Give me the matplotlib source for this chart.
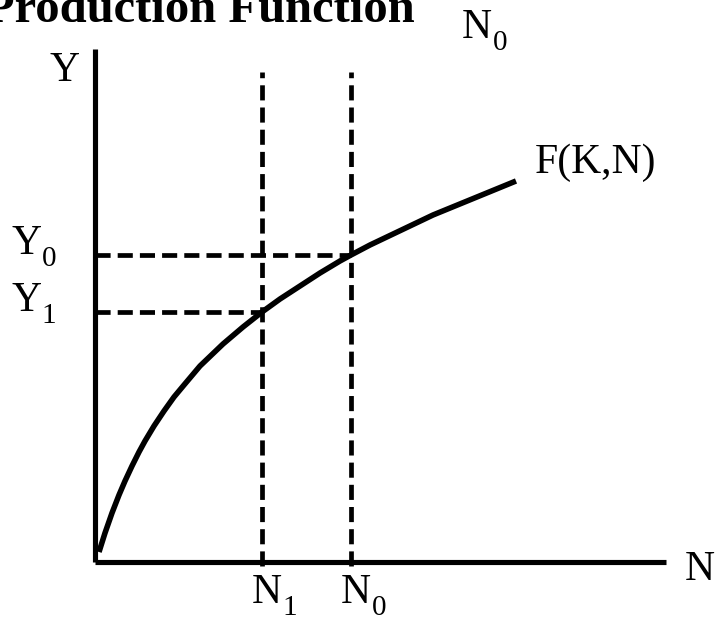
import matplotlib
matplotlib.use("Agg")
import matplotlib.pyplot as plt
import numpy as np

# production function F(K,N) (arbitrary units)
labour = [4, 10, 17, 24, 30, 37, 44, 50, 59, 69, 79, 89, 105, 128, 148,
          167, 185, 205, 225, 245, 256, 275, 338, 421]
output = [10, 29, 49, 67, 81, 96, 110, 121, 136, 151, 165, 177, 196, 218, 235,
          250, 263, 276, 289, 301, 307, 317, 347, 381]

n_levels = [167, 256]      # N1, N0
y_levels = [250, 307]      # Y1, Y0
n_subs = ["1", "0"]
y_subs = ["1", "0"]

x_end = 571
y_end = 513
guide_top = 490

plt.rcParams['font.family'] = ['Liberation Serif', 'DejaVu Serif']

fig = plt.figure(figsize=(7.2, 6.19), dpi=100)
ax = fig.add_axes([0, 0, 1, 1])
ax.set_xlim(-95, 625)
ax.set_ylim(-57, 562)
ax.axis('off')

lw_axis = 3.7
lw_curve = 4.0
lw_dash = 3.4
dash = (3.2, 1.5)

# axes
ax.plot([0, 0], [0, y_end], color='black', lw=lw_axis, solid_capstyle='butt')
ax.plot([0, x_end], [0, 0], color='black', lw=lw_axis, solid_capstyle='butt')

# guide lines
for n, yv in zip(n_levels, y_levels):
    ax.plot([n, n], [-4, guide_top], color='black', lw=lw_dash, dashes=dash)
    ax.plot([0, n], [yv, yv], color='black', lw=lw_dash, dashes=dash)

# curve
ax.plot(labour, output, color='black', lw=lw_curve, solid_capstyle='butt',
        solid_joinstyle='round')

fs = 30
fs_sub = 21


def label(x, y, main, sub=None):
    ax.text(x, y, main, fontsize=fs, ha='left', va='baseline')
    if sub:
        ax.annotate(sub, xy=(x, y), xytext=(0.74 * fs, -8.5),
                    textcoords='offset points', fontsize=fs_sub,
                    ha='left', va='baseline')


ax.text(-110, 540, "Production Function", fontsize=35, fontweight='bold',
        ha='left', va='baseline')
label(-46, 481, "Y")
label(590, -18, "N")
ax.text(440, 389, "F(K,N)", fontsize=fs, ha='left', va='baseline')
label(367, 524, "N", "0")

for n, s in zip(n_levels, n_subs):
    label(n - 10, -41, "N", s)
for yv, s in zip(y_levels, y_subs):
    label(-84, yv + 1, "Y", s)

fig.savefig("out.png", dpi=100)
